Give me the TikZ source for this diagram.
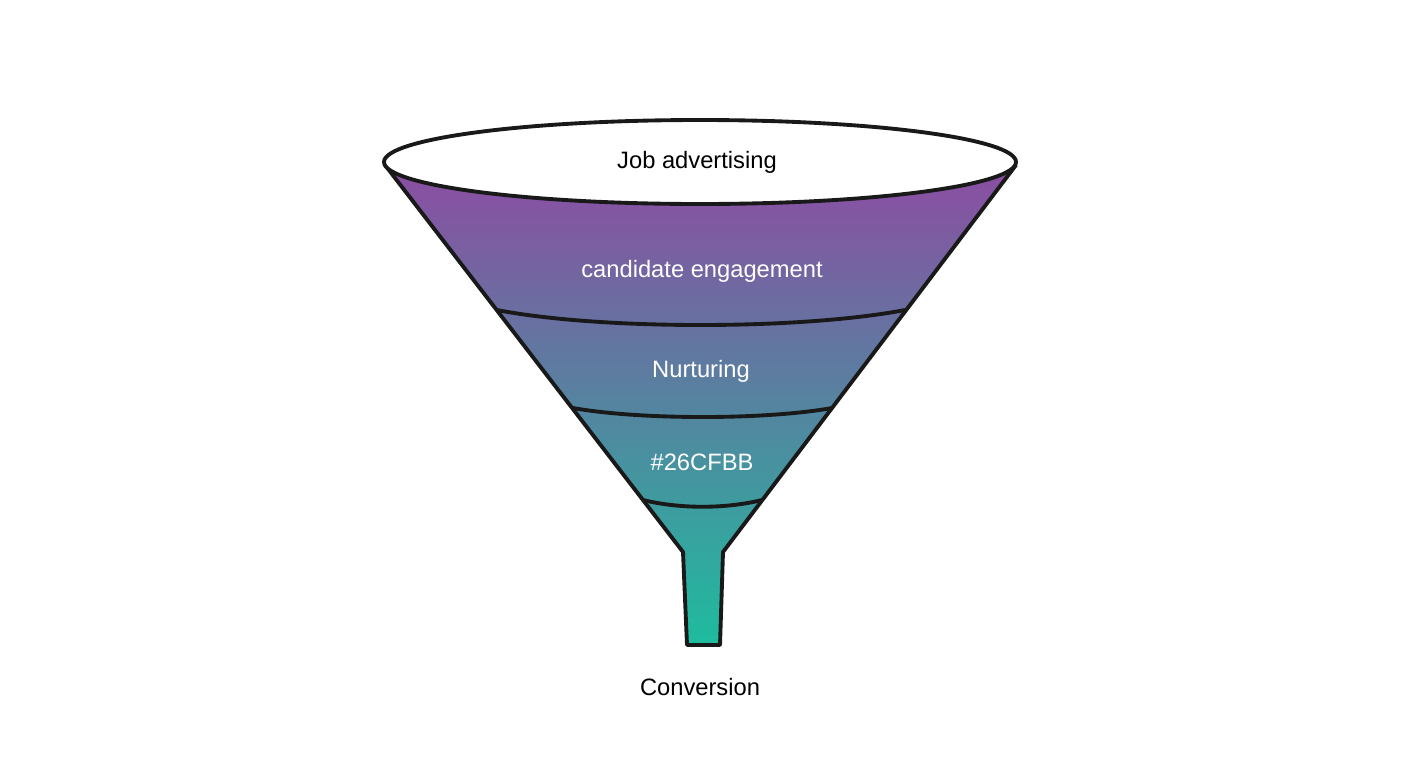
\documentclass[tikz,border=0pt]{standalone}
\usepackage{fontspec}
\setmainfont{Liberation Sans}
\usepackage{tikz}

\definecolor{funneltop}{RGB}{140,76,162}
\definecolor{funnelmid}{RGB}{82,120,174}
\definecolor{funnelbot}{RGB}{30,188,158}

\begin{document}
\begin{tikzpicture}[x=0.02cm, y=-0.02cm, line join=round]
            \useasboundingbox (0,0) rectangle (1408,768);
            \tikzset{
              edge/.style={line width=2.2pt, black!90},
              label/.style={font=\fontsize{13.5}{16}\selectfont}
            }
            \coordinate (TL) at (385,165);
            \coordinate (TR) at (1016,165);
            \coordinate (NL) at (683,552);
            \coordinate (NR) at (723,552);
            \coordinate (SL) at (687,645);
            \coordinate (SR) at (720,645);
            
            % Body of the funnel
            \shade[top color=funneltop, middle color=funnelmid, bottom color=funnelbot]
              (TL) -- (NL) -- (SL) -- (SR) -- (NR) -- (TR) -- cycle;
            \draw[edge] (TL) -- (NL) -- (SL) -- (SR) -- (NR) -- (TR);
            
            % Band lines
            \coordinate (A1) at (497,310); \coordinate (A2) at (905,310);
            \coordinate (B1) at (573,408); \coordinate (B2) at (832,408);
            \coordinate (C1) at (643,500); \coordinate (C2) at (762,500);
            \draw[edge] (A1) .. controls (600,330) and (800,330) .. (A2);
            \draw[edge] (B1) .. controls (640,420) and (765,420) .. (B2);
            \draw[edge] (C1) .. controls (680,509) and (725,509) .. (C2);
            
            % Top rim
            \draw[edge, fill=white] (700,162) ellipse (316 and 42);
            
            % Labels
            \node[label] (top) at (697,162) {Job advertising};
            \node[label, white] (eng) at (702,271) {candidate engagement};
            \node[label, white] (nur) at (701,371) {Nurturing};
            \node[label, white] (hex) at (702,462) {\#26CFBB};
            \node[label] (conv) at (700,687) {Conversion};
\end{tikzpicture}
\end{document}
